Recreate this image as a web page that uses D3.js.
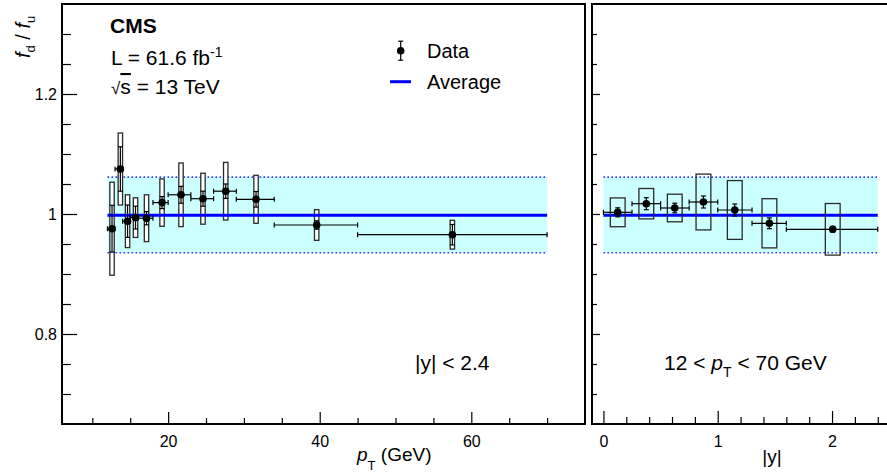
<!DOCTYPE html>
<html><head><meta charset="utf-8">
<script src="https://cdn.jsdelivr.net/npm/d3@7"></script>
<style>
body{margin:0;background:#fff}
svg{display:block}
text{font-family:"Liberation Sans",Arial,Helvetica,sans-serif;fill:#000}
</style>
</head><body>
<svg id="c" width="887" height="475"></svg>
<script>
// ---- data (left panel: versus pT, |y|<2.4) ----
const ptLo   = [12, 13, 14, 15, 16, 18, 20, 23, 26, 29, 34, 45];
const ptHi   = [13, 14, 15, 16, 18, 20, 23, 26, 29, 34, 45, 70];
const ptMean = [12.6, 13.7, 14.65, 15.7, 17.15, 19.2, 21.7, 24.6, 27.6, 31.6, 39.6, 57.5];
const ptVal  = [0.9755, 1.075, 0.988, 0.994, 0.993, 1.019, 1.032, 1.0255, 1.038, 1.0245, 0.9817, 0.9655];
const ptStat = [0.039, 0.037, 0.027, 0.019, 0.011, 0.010, 0.014, 0.0125, 0.012, 0.013, 0.007, 0.017];
const ptSyst = [0.0775, 0.060, 0.044, 0.033, 0.039, 0.0395, 0.053, 0.0425, 0.048, 0.040, 0.0256, 0.024];
// ---- data (right panel: versus |y|, 12<pT<70 GeV) ----
const yLo   = [0, 0.25, 0.5, 0.75, 1.0, 1.3, 1.6];
const yHi   = [0.25, 0.5, 0.75, 1.0, 1.3, 1.6, 2.4];
const yMean = [0.125, 0.375, 0.624, 0.875, 1.149, 1.452, 2.006];
const yVal  = [1.0028, 1.0172, 1.010, 1.020, 1.0067, 0.9845, 0.9745];
const yStat = [0.0075, 0.010, 0.008, 0.010, 0.010, 0.009, 0.005];
const ySyst = [0.024, 0.0253, 0.023, 0.0465, 0.049, 0.041, 0.043];
// ---- average and its uncertainty band ----
const average = [0.998];
const band    = [0.9355, 1.0615];
const ptRange = [12, 70];
const yRange  = [0, 2.4];
// ---- ticks ----
const yMajor = [0.8, 1.0, 1.2];
const yMajorLabels = ["0.8", "1", "1.2"];
const yMinor = [0.7, 0.75, 0.85, 0.9, 0.95, 1.05, 1.1, 1.15, 1.25, 1.3];
const ptMajor = [20, 40, 60];
const ptMajorLabels = ["20", "40", "60"];
const ptMinor = [10, 15, 25, 30, 35, 45, 50, 55, 65, 70];
const absyMajor = [0, 1, 2];
const absyMajorLabels = ["0", "1", "2"];
const absyMinor = [0.2, 0.4, 0.6, 0.8, 1.2, 1.4, 1.6, 1.8, 2.2, 2.4];

const svg = d3.select("#c");
const yS = d3.scaleLinear().domain([0.65, 1.35]).range([424, 4]);
const xL = d3.scaleLinear().domain([6, 75]).range([62, 585]);
const xR = d3.scaleLinear().domain([-0.1, 2.5]).range([592, 889.2]);

function panel(g, x, lo, hi, mean, val, stat, syst, xr, boxHalf, boxFill) {
  // band
  g.append("rect").attr("x", x(xr[0])).attr("width", x(xr[1]) - x(xr[0]))
    .attr("y", yS(band[1])).attr("height", yS(band[0]) - yS(band[1]))
    .attr("fill", "#ccffff");
  band.forEach(b => g.append("line").attr("x1", x(xr[0])).attr("x2", x(xr[1]))
    .attr("y1", yS(b)).attr("y2", yS(b))
    .attr("stroke", "#3a3aff").attr("stroke-width", 1.6).attr("stroke-dasharray", "1.6,2.4"));
  const avgLine = () => g.append("line").attr("x1", x(xr[0])).attr("x2", x(xr[1]))
    .attr("y1", yS(average[0])).attr("y2", yS(average[0]))
    .attr("stroke", "#0000ff").attr("stroke-width", 3);
  if (boxFill === "none") avgLine();
  // syst boxes
  g.selectAll(".box").data(val).enter().append("rect")
    .attr("x", (d, i) => x(mean[i]) - boxHalf).attr("width", 2 * boxHalf)
    .attr("y", (d, i) => yS(d + syst[i])).attr("height", (d, i) => yS(d - syst[i]) - yS(d + syst[i]))
    .attr("fill", boxFill).attr("stroke", "#2a2a2a").attr("stroke-width", 1.3);
  if (boxFill !== "none") avgLine();
  // horizontal bars with end caps
  val.forEach((d, i) => {
    const yy = yS(d);
    g.append("line").attr("x1", x(lo[i])).attr("x2", x(hi[i])).attr("y1", yy).attr("y2", yy)
      .attr("stroke", "#000").attr("stroke-width", 1.2);
    [lo[i], hi[i]].forEach(e => g.append("line").attr("x1", x(e)).attr("x2", x(e))
      .attr("y1", yy - 2.5).attr("y2", yy + 2.5).attr("stroke", "#000").attr("stroke-width", 1.2));
    const xx = x(mean[i]);
    g.append("line").attr("x1", xx).attr("x2", xx).attr("y1", yS(d + stat[i])).attr("y2", yS(d - stat[i]))
      .attr("stroke", "#000").attr("stroke-width", 1.2);
    [d + stat[i], d - stat[i]].forEach(e => g.append("line").attr("x1", xx - 2.5).attr("x2", xx + 2.5)
      .attr("y1", yS(e)).attr("y2", yS(e)).attr("stroke", "#000").attr("stroke-width", 1.2));
  });
  g.selectAll(".pt").data(val).enter().append("circle")
    .attr("cx", (d, i) => x(mean[i])).attr("cy", d => yS(d)).attr("r", 3.8).attr("fill", "#000");
}

const gL = svg.append("g");
panel(gL, xL, ptLo, ptHi, ptMean, ptVal, ptStat, ptSyst, ptRange, 2.2, "#fff");
const gR = svg.append("g");
panel(gR, xR, yLo, yHi, yMean, yVal, yStat, ySyst, yRange, 7.4, "none");

// axes
function styleAxis(sel) {
  sel.select(".domain").remove();
  sel.selectAll(".tick line").attr("stroke", "#000").attr("stroke-width", 1.2);
  sel.selectAll("text").style("font-family", '"Liberation Sans",Arial,sans-serif').style("font-size", "16px").attr("fill", "#000");
}
// left y
svg.append("g").attr("transform", `translate(${xL.range()[0]},0)`)
  .call(d3.axisLeft(yS).tickValues(yMajor).tickSize(-15).tickPadding(5).tickFormat((d, i) => yMajorLabels[i])).call(styleAxis);
svg.append("g").attr("transform", `translate(${xL.range()[0]},0)`)
  .call(d3.axisLeft(yS).tickValues(yMinor).tickSize(-9).tickFormat("")).call(styleAxis);
// right y (no labels)
svg.append("g").attr("transform", `translate(${xR.range()[0]},0)`)
  .call(d3.axisLeft(yS).tickValues(yMajor).tickSize(-8).tickFormat("")).call(styleAxis);
svg.append("g").attr("transform", `translate(${xR.range()[0]},0)`)
  .call(d3.axisLeft(yS).tickValues(yMinor).tickSize(-5).tickFormat("")).call(styleAxis);
// left x
svg.append("g").attr("transform", `translate(0,${yS.range()[0]})`)
  .call(d3.axisBottom(xL).tickValues(ptMajor).tickSize(-12).tickPadding(12).tickFormat((d, i) => ptMajorLabels[i])).call(styleAxis);
svg.append("g").attr("transform", `translate(0,${yS.range()[0]})`)
  .call(d3.axisBottom(xL).tickValues(ptMinor).tickSize(-6).tickFormat("")).call(styleAxis);
// right x
svg.append("g").attr("transform", `translate(0,${yS.range()[0]})`)
  .call(d3.axisBottom(xR).tickValues(absyMajor).tickSize(-13).tickPadding(12).tickFormat((d, i) => absyMajorLabels[i])).call(styleAxis);
svg.append("g").attr("transform", `translate(0,${yS.range()[0]})`)
  .call(d3.axisBottom(xR).tickValues(absyMinor).tickSize(-7).tickFormat("")).call(styleAxis);

// frames
svg.append("rect").attr("x", xL.range()[0]).attr("y", yS.range()[1])
  .attr("width", xL.range()[1] - xL.range()[0]).attr("height", yS.range()[0] - yS.range()[1])
  .attr("fill", "none").attr("stroke", "#000").attr("stroke-width", 2);
svg.append("rect").attr("x", xR.range()[0]).attr("y", yS.range()[1])
  .attr("width", xR.range()[1] - xR.range()[0]).attr("height", yS.range()[0] - yS.range()[1])
  .attr("fill", "none").attr("stroke", "#000").attr("stroke-width", 2);

// texts
svg.append("text").attr("x", 110).attr("y", 33).style("font-size", "21px").style("font-weight", "bold").text("CMS");
const tL = svg.append("text").attr("x", 111).attr("y", 65).style("font-size", "21px");
tL.append("tspan").text("L = 61.6 fb");
tL.append("tspan").attr("dy", -8).style("font-size", "14px").text("-1");
const tS = svg.append("text").attr("x", 111).attr("y", 94).style("font-size", "21px");
tS.append("tspan").style("font-size", "17px").text("√");
tS.append("tspan").style("text-decoration", "overline").text("s");
tS.append("tspan").text(" = 13 TeV");

// legend
const lgx = 400.7, lgy = 50.7;
svg.append("line").attr("x1", lgx).attr("x2", lgx).attr("y1", lgy - 9.5).attr("y2", lgy + 9.5).attr("stroke", "#000").attr("stroke-width", 1.2);
[lgy - 9.5, lgy + 9.5].forEach(v => svg.append("line").attr("x1", lgx - 2.5).attr("x2", lgx + 2.5).attr("y1", v).attr("y2", v).attr("stroke", "#000").attr("stroke-width", 1.2));
svg.append("circle").attr("cx", lgx).attr("cy", lgy).attr("r", 3.8).attr("fill", "#000");
svg.append("text").attr("x", 427).attr("y", 58).style("font-size", "20px").text("Data");
svg.append("line").attr("x1", 390).attr("x2", 411).attr("y1", 81.7).attr("y2", 81.7).attr("stroke", "#0000ff").attr("stroke-width", 3);
svg.append("text").attr("x", 427).attr("y", 89).style("font-size", "20px").text("Average");

// panel annotations
svg.append("text").attr("x", 415).attr("y", 370).style("font-size", "21px").text("|y| < 2.4");
const tR = svg.append("text").attr("x", 664).attr("y", 370).style("font-size", "21px");
tR.append("tspan").text("12 < ");
tR.append("tspan").style("font-style", "italic").text("p");
tR.append("tspan").attr("dy", 7).style("font-size", "14px").text("T");
tR.append("tspan").attr("dy", -7).text(" < 70 GeV");

// axis titles
const tx = svg.append("text").attr("x", 357).attr("y", 461).style("font-size", "19px");
tx.append("tspan").style("font-style", "italic").text("p");
tx.append("tspan").attr("dy", 9).style("font-size", "13px").text("T");
tx.append("tspan").attr("dy", -9).text(" (GeV)");
svg.append("text").attr("x", 772).attr("y", 463).attr("text-anchor", "middle").style("font-size", "19px").text("|y|");
const ty = svg.append("text").attr("transform", "translate(30,58) rotate(-90)").style("font-size", "20px");
ty.append("tspan").style("font-style", "italic").text("f");
ty.append("tspan").attr("dy", 5).style("font-size", "13px").text("d");
ty.append("tspan").attr("dy", -5).text(" / ");
ty.append("tspan").style("font-style", "italic").text("f");
ty.append("tspan").attr("dy", 5).style("font-size", "13px").text("u");
</script>
</body></html>
